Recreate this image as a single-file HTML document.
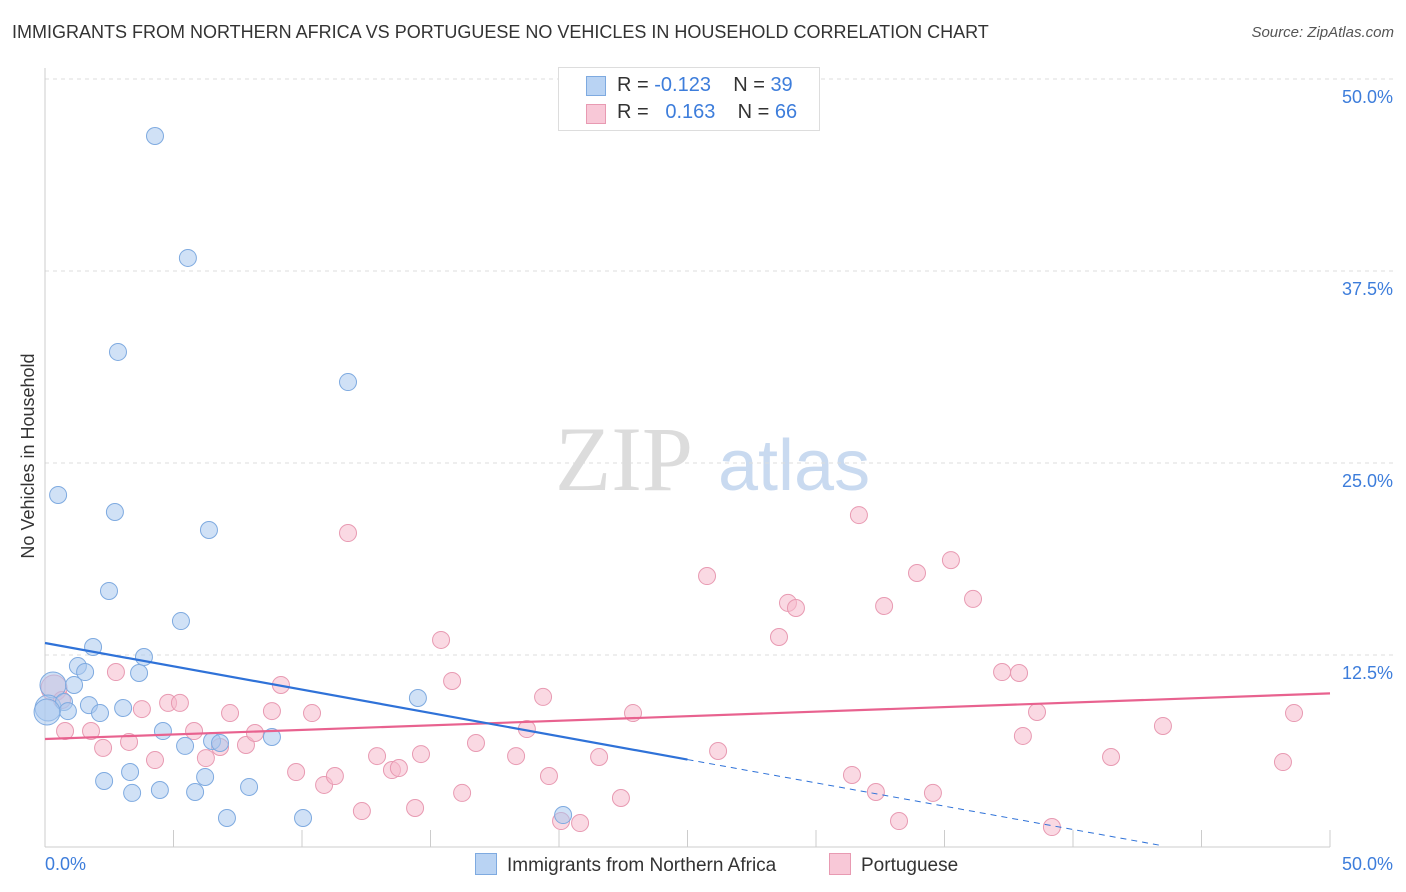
<!DOCTYPE html>
<html><head><meta charset="utf-8">
<style>
body{margin:0;background:#fff;font-family:"Liberation Sans",sans-serif;}
#wrap{position:relative;width:1406px;height:892px;overflow:hidden;}
.t{position:absolute;white-space:nowrap;}
</style></head>
<body>
<div id="wrap">
<div class="t" style="left:12px;top:22px;font-size:18px;color:#333;">IMMIGRANTS FROM NORTHERN AFRICA VS PORTUGUESE NO VEHICLES IN HOUSEHOLD CORRELATION CHART</div>
<div class="t" style="right:12px;top:24px;font-size:15px;color:#555;font-style:italic;">Source: ZipAtlas.com</div>
<svg id="svg" width="1406" height="892" style="position:absolute;left:0;top:0"></svg>
</div>
<script>
const yTicks=[12.5,25,37.5,50];
const yTickLabels=["12.5%","25.0%","37.5%","50.0%"];
const xTickLabels=["0.0%","50.0%"];
const blueX=[4.28,5.56,2.84,11.79,0.51,2.72,6.38,2.49,5.29,1.87,3.85,1.28,1.56,3.66,0.31,1.13,0.12,0.74,0.89,1.71,2.14,3.04,4.59,5.45,6.50,6.81,8.83,14.51,3.31,2.30,6.23,3.39,4.47,5.84,7.94,7.08,10.04,20.16,0.08];
const blueY=[46.29,38.35,32.23,30.27,22.92,21.81,20.64,16.67,14.71,13.02,12.37,11.78,11.39,11.33,10.55,10.55,9.05,9.44,8.85,9.24,8.72,9.05,7.55,6.58,6.90,6.77,7.16,9.70,4.88,4.30,4.56,3.52,3.71,3.58,3.91,1.89,1.89,2.08,8.79];
const pinkX=[0.35,0.66,0.78,1.79,2.26,2.76,3.27,3.77,4.28,4.79,5.25,5.80,6.26,6.81,7.20,7.82,8.17,8.83,9.18,9.77,10.39,10.86,11.28,11.79,12.33,12.92,13.50,13.77,14.40,14.63,15.41,15.84,16.23,16.77,18.33,18.75,19.38,19.61,20.08,20.82,21.56,22.41,22.88,25.76,26.19,28.56,28.91,29.22,31.40,31.67,32.33,32.65,33.23,33.93,34.55,35.25,36.11,37.24,37.90,38.05,38.60,39.18,41.48,43.50,48.60,48.17];
const pinkY=[10.35,9.57,7.55,7.55,6.45,11.39,6.84,8.98,5.66,9.38,9.38,7.55,5.79,6.51,8.72,6.64,7.42,8.85,10.55,4.88,8.72,4.04,4.62,20.44,2.34,5.92,5.01,5.14,2.54,6.05,13.48,10.81,3.52,6.77,5.92,7.68,9.77,4.62,1.69,1.56,5.86,3.19,8.72,17.64,6.25,13.67,15.89,15.56,4.69,21.61,3.58,15.69,1.69,17.84,3.52,18.68,16.15,11.39,11.33,7.23,8.79,1.30,5.86,7.88,8.72,5.53];
const blueTrend=[13.28,-0.3035]; // intercept, slope
const pinkTrend=[7.03,0.0594];

const X0=45,X1=1330,Y0=847,Y50=79;
const sx=v=>X0+(X1-X0)*v/50;
const sy=v=>Y0-(Y0-Y50)*v/50;
const svg=document.getElementById('svg');
const NS='http://www.w3.org/2000/svg';
function mk(tag,attrs,parent){const e=document.createElementNS(NS,tag);for(const k in attrs)e.setAttribute(k,attrs[k]);(parent||svg).appendChild(e);return e;}

// watermark
let wm=mk('text',{x:555,y:490,'font-size':92,fill:'#dcdcdc','font-family':'Liberation Serif, serif'});
wm.textContent='ZIP';


let wm2=mk('text',{x:718,y:490,'font-size':72,fill:'#c9daf0','font-family':'Liberation Sans, sans-serif'});
wm2.textContent='atlas';



// gridlines and y labels
yTicks.forEach((v,i)=>{
  const g=mk('line',{x1:X0,x2:1395,y1:sy(v),y2:sy(v),stroke:'#ddd','stroke-dasharray':'4,4'});
  
  
  const t=mk('text',{x:1393,y:sy(v)+24,'text-anchor':'end','font-size':18,fill:'#3d7ddb'});
  t.textContent=yTickLabels[i];
  
  
});
// axes
let ax=mk('line',{x1:X0,x2:X0,y1:68,y2:Y0,stroke:'#ccc'});


let bx=mk('line',{x1:X0,x2:X1,y1:Y0,y2:Y0,stroke:'#ccc'});


for(let i=0;i<=10;i++){
  const tk=mk('line',{x1:sx(i*5),x2:sx(i*5),y1:830,y2:Y0,stroke:'#ccc'});
  
  
}
[[0,'start',45],[50,'end',1393]].forEach((d,i)=>{
  const t=mk('text',{x:d[2],y:870,'text-anchor':d[1],'font-size':18,fill:'#3d7ddb'});
  t.textContent=xTickLabels[i];
  
  
});
let yt=mk('text',{x:34,y:456,'font-size':18,fill:'#333','text-anchor':'middle',transform:'rotate(-90 34 456)'});
yt.textContent='No Vehicles in Household';



// points
function pts(xs,ys,fill,stroke,name){
  xs.forEach((x,i)=>{
    const big=(x<0.4);
    const c=mk('circle',{cx:sx(x),cy:sy(ys[i]),r:big?13:8.5,fill:fill,'fill-opacity':0.55,stroke:stroke,'stroke-width':1});
    
    
  });
}
pts(pinkX,pinkY,'#f6b9cc','#e89ab2','portuguese-point');
pts(blueX,blueY,'#a9c8ef','#7eaae0','immigrants-point');

// trends
let pl=mk('line',{x1:sx(0),y1:sy(pinkTrend[0]),x2:sx(50),y2:sy(pinkTrend[0]+pinkTrend[1]*50),stroke:'#e8628f','stroke-width':2.2});


let bl=mk('line',{x1:sx(0),y1:sy(blueTrend[0]),x2:sx(25),y2:sy(blueTrend[0]+blueTrend[1]*25),stroke:'#2f72d8','stroke-width':2.2});


let bd=mk('line',{x1:sx(25),y1:sy(blueTrend[0]+blueTrend[1]*25),x2:sx(43.4),y2:sy(blueTrend[0]+blueTrend[1]*43.4),stroke:'#2f72d8','stroke-width':1,'stroke-dasharray':'6,5'});


</script>
<div class="t" style="left:558px;top:67px;width:260px;height:62px;border:1px solid #ddd;background:#fff;font-size:20px;">
  <div style="position:absolute;left:27px;top:8px;width:18px;height:18px;background:#b9d3f3;border:1px solid #7eaae0;"></div>
  <div style="position:absolute;left:58px;top:6px;color:#333;">R = <span style="color:#3d7ddb">-0.123</span>&nbsp;&nbsp;&nbsp;&nbsp;N = <span style="color:#3d7ddb">39</span></div>
  <div style="position:absolute;left:27px;top:36px;width:18px;height:18px;background:#f8c8d7;border:1px solid #e89ab2;"></div>
  <div style="position:absolute;left:58px;top:33px;color:#333;">R = &nbsp;&nbsp;<span style="color:#3d7ddb">0.163</span>&nbsp;&nbsp;&nbsp;&nbsp;N = <span style="color:#3d7ddb">66</span></div>
</div>
<div class="t" style="left:475px;top:853px;font-size:19px;color:#333;"><span style="display:inline-block;width:20px;height:20px;background:#b9d3f3;border:1px solid #7eaae0;vertical-align:-4px;margin-right:10px;"></span>Immigrants from Northern Africa</div>
<div class="t" style="left:829px;top:853px;font-size:19px;color:#333;"><span style="display:inline-block;width:20px;height:20px;background:#f8c8d7;border:1px solid #e89ab2;vertical-align:-4px;margin-right:10px;"></span>Portuguese</div>
</body></html>
